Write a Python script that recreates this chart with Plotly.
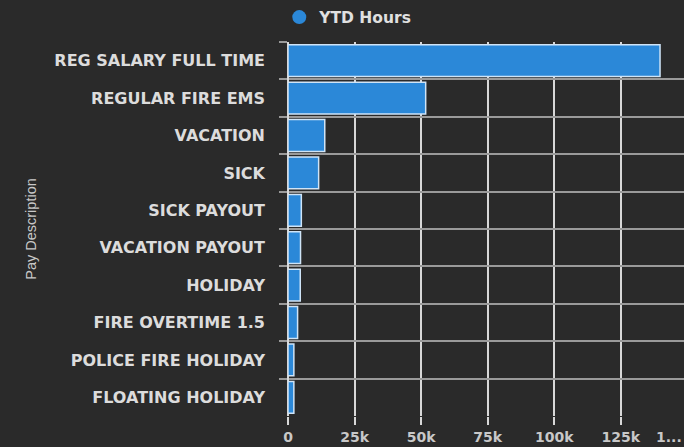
import plotly.graph_objects as go

categories = ["REG SALARY FULL TIME", "REGULAR FIRE EMS", "VACATION", "SICK",
              "SICK PAYOUT", "VACATION PAYOUT", "HOLIDAY", "FIRE OVERTIME 1.5",
              "POLICE FIRE HOLIDAY", "FLOATING HOLIDAY"]
ytd_hours = [139700, 51700, 13800, 11500, 5000, 4700, 4600, 3600, 2200, 2200]
series_name = "YTD Hours"
x_tickvals = [0, 25000, 50000, 75000, 100000, 125000]
x_ticktext = ["0", "25k", "50k", "75k", "100k", "125k"]
x_cut_label = "1..."

BAR_BLUE = "#2b88d8"

fig = go.Figure()
fig.add_trace(go.Bar(
    x=ytd_hours, y=categories, orientation="h", name=series_name,
    marker=dict(color=BAR_BLUE, line=dict(color="#cfe4f7", width=1.5)),
    showlegend=False,
))
# legend entry with a round marker
fig.add_trace(go.Scatter(
    x=[None], y=[None], mode="markers", name=series_name,
    marker=dict(symbol="circle", size=14, color=BAR_BLUE),
    showlegend=True, hoverinfo="skip",
))

fig.update_layout(
    width=684, height=447,
    paper_bgcolor="#2a2a2a", plot_bgcolor="#2a2a2a",
    margin=dict(l=288, r=0, t=42, b=31, autoexpand=False),
    bargap=0.15,
    showlegend=True,
    legend=dict(orientation="h", x=-0.022, xanchor="left", y=1.02, yanchor="bottom",
                font=dict(family="DejaVu Sans", size=15.5, color="#e0e0e0", weight="bold"),
                bgcolor="rgba(0,0,0,0)", itemwidth=30),
    font=dict(family="DejaVu Sans", color="#d0d0d0"),
    annotations=[dict(text=x_cut_label, xref="paper", yref="paper", x=1.0, y=0,
                      xanchor="right", yanchor="top", yshift=-11, showarrow=False,
                      font=dict(family="DejaVu Sans", size=14, color="#c8c8c8", weight="bold"))],
)
fig.update_xaxes(
    range=[0, 148700], tickvals=x_tickvals, ticktext=x_ticktext,
    showgrid=True, gridcolor="#d8d8d8", gridwidth=1.5,
    zeroline=True, zerolinecolor="#d8d8d8", zerolinewidth=1.5,
    ticks="outside", ticklen=8, tickcolor="#d8d8d8", tickwidth=1.5,
    tickfont=dict(family="DejaVu Sans", size=14, color="#c8c8c8", weight="bold"),
    showline=False, fixedrange=True,
)
fig.update_yaxes(
    autorange="reversed", tickson="boundaries",
    showgrid=True, gridcolor="#9a9a9a", gridwidth=2,
    ticks="outside", ticklen=8, tickcolor="#9a9a9a", tickwidth=2,
    ticklabelstandoff=22,
    tickfont=dict(family="DejaVu Sans", size=16, color="#dcdcdc", weight="bold"),
    title=dict(text="Pay Description",
               font=dict(family="Liberation Sans", size=14.5, color="#c8c8c8"),
               standoff=14),
    showline=False,
)
fig.write_html("out.html", config={"displayModeBar": False},
               post_script="document.body.style.margin='0';document.body.style.background='#2a2a2a';")
